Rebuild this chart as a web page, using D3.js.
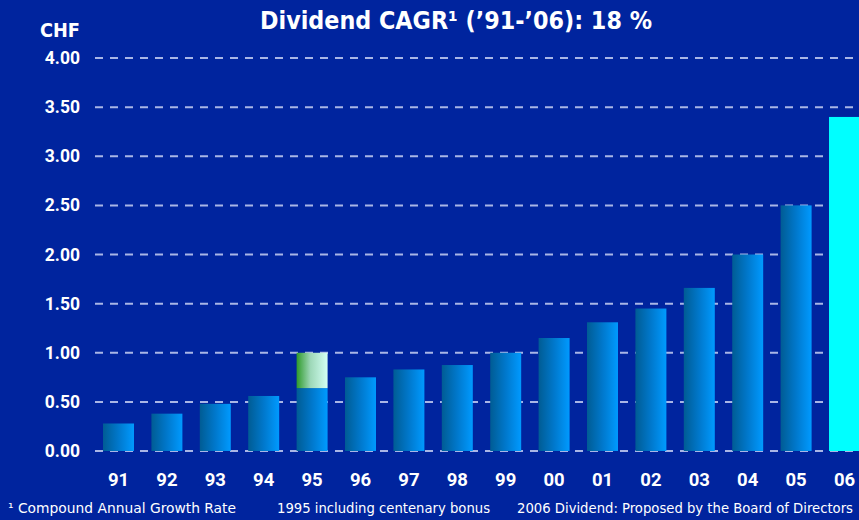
<!DOCTYPE html>
<html><head><meta charset="utf-8">
<script src="https://cdn.jsdelivr.net/npm/d3@7"></script>
<style>
html,body{margin:0;padding:0;background:#00249e;}
svg{display:block;}
</style></head>
<body>
<svg id="chart" width="859" height="520"></svg>
<script>
const categories = ["91","92","93","94","95","96","97","98","99","00","01","02","03","04","05","06"];
const dividends  = [0.28,0.38,0.48,0.56,0.64,0.75,0.83,0.875,1.00,1.15,1.31,1.45,1.66,2.00,2.50,3.40];
const bonus      = [0,0,0,0,0.36,0,0,0,0,0,0,0,0,0,0,0];
const yTicks     = [0,0.5,1,1.5,2,2.5,3,3.5,4];
const title = "Dividend CAGR\u00B9 (\u201991-\u201906): 18 %";
const notes = ["\u00B9 Compound Annual Growth Rate","1995 including centenary bonus","2006 Dividend: Proposed by the Board of Directors"];

const svg = d3.select("#chart");
const W = 859, H = 520;
svg.append("rect").attr("width",W).attr("height",H).attr("fill","#00249e");

const defs = svg.append("defs");
const g1 = defs.append("linearGradient").attr("id","barGrad").attr("x1","0").attr("x2","1").attr("y1","0").attr("y2","0");
g1.append("stop").attr("offset","0").attr("stop-color","#005c94");
g1.append("stop").attr("offset","0.5").attr("stop-color","#0078cc");
g1.append("stop").attr("offset","1").attr("stop-color","#009aff");
const g2 = defs.append("linearGradient").attr("id","bonusGrad").attr("x1","0").attr("x2","1").attr("y1","0").attr("y2","0");
g2.append("stop").attr("offset","0").attr("stop-color","#2e9a2a");
g2.append("stop").attr("offset","0.45").attr("stop-color","#9ed8b8");
g2.append("stop").attr("offset","1").attr("stop-color","#d4fff4");

const x = d3.scaleBand().domain(categories).range([94.3, 868.7]).paddingInner(0.36).paddingOuter(0.18);
const y = d3.scaleLinear().domain([0,4]).range([451, 58]);

// gridlines
svg.append("g").selectAll("line").data(yTicks).join("line")
  .attr("x1",95).attr("x2",W).attr("y1",d=>y(d)).attr("y2",d=>y(d))
  .attr("stroke","#a9b6e6").attr("stroke-width",2).attr("stroke-dasharray","8,7");

// y labels
const yAxis = d3.axisLeft(y).tickValues(yTicks).tickFormat(d3.format(".2f")).tickSize(0).tickPadding(0);
const ya = svg.append("g").attr("transform","translate(80,0)").call(yAxis);
ya.select(".domain").remove();
ya.selectAll("text").attr("fill","#fff").attr("font-family","Roboto, 'Liberation Sans', sans-serif")
  .attr("font-weight","bold").attr("font-size","17.5px");

// bars
const last = categories.length-1;
svg.append("g").selectAll("rect.base").data(categories).join("rect")
  .attr("x",d=>x(d)).attr("width",x.bandwidth())
  .attr("y",(d,i)=>y(dividends[i])).attr("height",(d,i)=>y(0)-y(dividends[i]))
  .attr("fill",(d,i)=> i===last ? "#00ffff" : "url(#barGrad)");
svg.append("g").selectAll("rect.bonus").data(categories.filter((d,i)=>bonus[i]>0)).join("rect")
  .attr("x",d=>x(d)).attr("width",x.bandwidth())
  .attr("y",d=>{const i=categories.indexOf(d);return y(dividends[i]+bonus[i]);})
  .attr("height",d=>{const i=categories.indexOf(d);return y(dividends[i])-y(dividends[i]+bonus[i]);})
  .attr("fill","url(#bonusGrad)");

// x labels
const xAxis = d3.axisBottom(x).tickSize(0).tickPadding(0);
const xa = svg.append("g").attr("transform","translate(0,473)").call(xAxis);
xa.select(".domain").remove();
xa.selectAll("text").attr("fill","#fff").attr("font-family","Roboto, 'Liberation Sans', sans-serif")
  .attr("font-weight","bold").attr("font-size","18.5px");

// title
svg.append("text").attr("x",260).attr("y",29)
  .attr("fill","#fff").attr("font-family","'DejaVu Sans Condensed',sans-serif")
  .attr("font-weight","bold").attr("font-size","25px")
  .attr("textLength",392).attr("lengthAdjust","spacingAndGlyphs").text(title);
svg.append("text").attr("x",40).attr("y",37)
  .attr("fill","#fff").attr("font-family","'DejaVu Sans Condensed',sans-serif")
  .attr("font-weight","bold").attr("font-size","19px")
  .attr("textLength",40).attr("lengthAdjust","spacingAndGlyphs").text("CHF");

// footnotes
const noteX = [8, 277, 517];
const noteW = [228, 213, 336];
svg.append("g").selectAll("text").data(notes).join("text")
  .attr("x",(d,i)=>noteX[i]).attr("y",513)
  .attr("fill","#fff").attr("font-family","'DejaVu Sans Condensed',sans-serif")
  .attr("font-size","14px")
  .attr("textLength",(d,i)=>noteW[i]).attr("lengthAdjust","spacingAndGlyphs").text(d=>d);
</script>
</body></html>
